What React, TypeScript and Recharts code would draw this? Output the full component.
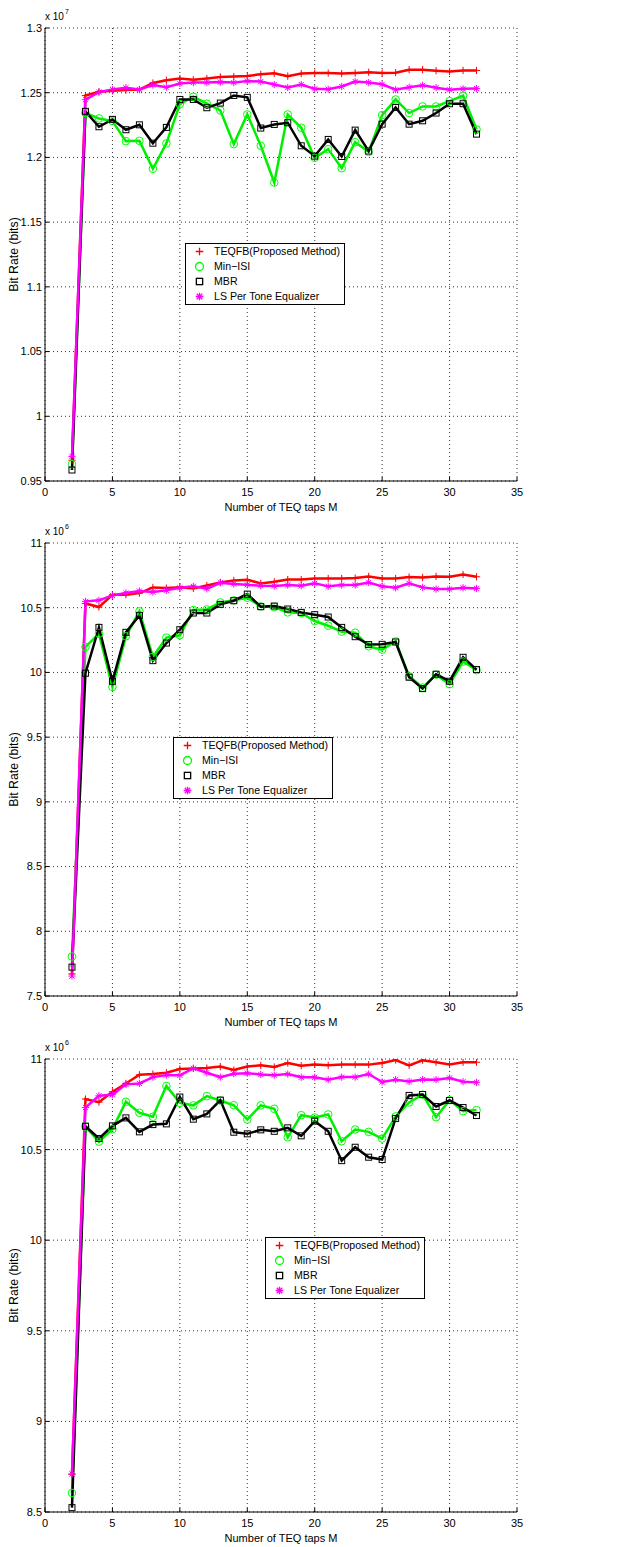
import React from 'react';
import { LineChart, Line, XAxis, YAxis, CartesianGrid, Legend } from 'recharts';

// Number of TEQ taps M
const taps = [2, 3, 4, 5, 6, 7, 8, 9, 10, 11, 12, 13, 14, 15, 16, 17, 18, 19, 20, 21, 22, 23, 24, 25, 26, 27, 28, 29, 30, 31, 32];
const xTicks = [0, 5, 10, 15, 20, 25, 30, 35];

// Panel 1 (x 10^7)
const p1Teqfb = [0.966, 1.2478, 1.2508, 1.2515, 1.252, 1.2524, 1.2575, 1.2597, 1.261, 1.26, 1.261, 1.2622, 1.2625, 1.263, 1.2642, 1.265, 1.2628, 1.2648, 1.2652, 1.2652, 1.2648, 1.2652, 1.2658, 1.2652, 1.2655, 1.2678, 1.2678, 1.267, 1.2663, 1.2672, 1.2672];
const p1MinIsi = [0.963, 1.2343, 1.2301, 1.2281, 1.2126, 1.2128, 1.1912, 1.2108, 1.2412, 1.2469, 1.2415, 1.2363, 1.2103, 1.2332, 1.209, 1.1806, 1.2332, 1.2229, 1.1997, 1.2064, 1.1917, 1.2118, 1.2043, 1.2327, 1.2448, 1.2343, 1.2394, 1.2394, 1.2435, 1.2477, 1.2216];
const p1Mbr = [0.9585, 1.2356, 1.2237, 1.2294, 1.2214, 1.2252, 1.211, 1.2232, 1.2448, 1.2448, 1.2384, 1.242, 1.2479, 1.2464, 1.2227, 1.2255, 1.2268, 1.209, 1.201, 1.2139, 1.2007, 1.2211, 1.2049, 1.2257, 1.2386, 1.2257, 1.2283, 1.2343, 1.2415, 1.2415, 1.218];
const p1Ls = [0.969, 1.2446, 1.2505, 1.2525, 1.2538, 1.2525, 1.256, 1.2543, 1.2571, 1.2578, 1.2578, 1.2582, 1.2578, 1.259, 1.2586, 1.2563, 1.254, 1.2563, 1.253, 1.2527, 1.2548, 1.2586, 1.2578, 1.2565, 1.2523, 1.2542, 1.2557, 1.2539, 1.2523, 1.253, 1.2532];
const p1YTicks = [0.95, 1, 1.05, 1.1, 1.15, 1.2, 1.25, 1.3];

// Panel 2 (x 10^6)
const p2Teqfb = [7.67, 10.533, 10.505, 10.6, 10.6, 10.613, 10.657, 10.652, 10.659, 10.649, 10.672, 10.695, 10.711, 10.716, 10.688, 10.7, 10.718, 10.718, 10.726, 10.726, 10.726, 10.729, 10.742, 10.726, 10.726, 10.737, 10.734, 10.742, 10.739, 10.757, 10.739];
const p2MinIsi = [7.805, 10.197, 10.3, 9.888, 10.279, 10.472, 10.12, 10.269, 10.287, 10.482, 10.487, 10.541, 10.557, 10.577, 10.51, 10.505, 10.464, 10.459, 10.397, 10.361, 10.315, 10.307, 10.202, 10.176, 10.24, 9.97, 9.883, 9.983, 9.909, 10.084, 10.017];
const p2Mbr = [7.723, 9.994, 10.348, 9.932, 10.31, 10.441, 10.091, 10.227, 10.33, 10.459, 10.459, 10.526, 10.554, 10.605, 10.508, 10.513, 10.49, 10.464, 10.446, 10.428, 10.348, 10.276, 10.215, 10.217, 10.235, 9.963, 9.875, 9.986, 9.932, 10.117, 10.022];
const p2Ls = [7.654, 10.549, 10.557, 10.595, 10.613, 10.629, 10.621, 10.634, 10.654, 10.665, 10.647, 10.693, 10.683, 10.677, 10.67, 10.667, 10.675, 10.67, 10.688, 10.665, 10.675, 10.675, 10.695, 10.665, 10.654, 10.688, 10.657, 10.644, 10.644, 10.654, 10.649];
const p2YTicks = [7.5, 8, 8.5, 9, 9.5, 10, 10.5, 11];

// Panel 3 (x 10^6)
const p3Teqfb = [8.708, 10.779, 10.762, 10.819, 10.865, 10.913, 10.917, 10.924, 10.945, 10.948, 10.95, 10.958, 10.939, 10.958, 10.965, 10.956, 10.978, 10.963, 10.97, 10.965, 10.969, 10.969, 10.969, 10.978, 10.994, 10.965, 10.993, 10.982, 10.97, 10.982, 10.982];
const p3MinIsi = [8.605, 10.627, 10.544, 10.613, 10.764, 10.703, 10.681, 10.851, 10.758, 10.744, 10.795, 10.771, 10.745, 10.666, 10.744, 10.725, 10.568, 10.69, 10.677, 10.694, 10.546, 10.611, 10.598, 10.561, 10.683, 10.76, 10.803, 10.679, 10.773, 10.712, 10.718];
const p3Mbr = [8.524, 10.629, 10.561, 10.631, 10.675, 10.598, 10.638, 10.642, 10.79, 10.668, 10.697, 10.773, 10.596, 10.587, 10.609, 10.601, 10.62, 10.576, 10.657, 10.601, 10.439, 10.513, 10.458, 10.445, 10.672, 10.799, 10.804, 10.738, 10.771, 10.732, 10.688];
const p3Ls = [8.71, 10.732, 10.797, 10.803, 10.86, 10.865, 10.9, 10.911, 10.91, 10.948, 10.924, 10.9, 10.919, 10.922, 10.915, 10.911, 10.917, 10.899, 10.899, 10.886, 10.9, 10.9, 10.917, 10.873, 10.886, 10.876, 10.887, 10.886, 10.895, 10.875, 10.871];
const p3YTicks = [8.5, 9, 9.5, 10, 10.5, 11];

const seriesNames = ['TEQFB(Proposed Method)', 'Min\u2212ISI', 'MBR', 'LS Per Tone Equalizer'];
const seriesKeys = ['teqfb', 'minisi', 'mbr', 'ls'];
const seriesColors = ['#ff0000', '#00ee00', '#000000', '#ff00ff'];
const markerColors = ['#ff0000', '#00ff00', '#000000', '#ff00ff'];

const FONT = '"Liberation Sans", Arial, Helvetica, sans-serif';

const buildRows = (a: number[], b: number[], c: number[], d: number[]) =>
  taps.map((m, i) => ({ m, teqfb: a[i], minisi: b[i], mbr: c[i], ls: d[i] }));

type MarkerProps = { cx: number; cy: number; color: string; kind: number; s?: number; w?: number };

const Marker = ({ cx, cy, color, kind, s = 1, w = 1 }: MarkerProps) => {
  if (cx == null || cy == null || isNaN(cx) || isNaN(cy)) return <g />;
  if (kind === 0) {
    const r = 3.6 * s;
    return <path d={`M${cx - r},${cy}H${cx + r}M${cx},${cy - r}V${cy + r}`} stroke={color} strokeWidth={w} fill="none" />;
  }
  if (kind === 1) {
    return <circle cx={cx} cy={cy} r={3.8 * s} stroke={color} strokeWidth={w} fill="none" />;
  }
  if (kind === 2) {
    const h = 3 * s;
    return <rect x={cx - h} y={cy - h} width={2 * h} height={2 * h} stroke={color} strokeWidth={w} fill="none" />;
  }
  const r = 3.6 * s;
  const d = r * 0.72;
  return (
    <path
      d={`M${cx - r},${cy}H${cx + r}M${cx},${cy - r}V${cy + r}M${cx - d},${cy - d}L${cx + d},${cy + d}M${cx - d},${cy + d}L${cx + d},${cy - d}`}
      stroke={color}
      strokeWidth={w}
      fill="none"
    />
  );
};

const LegendBox = () => (
  <div
    style={{
      border: '1px solid #000',
      background: '#fff',
      width: 160,
      height: 62,
      boxSizing: 'border-box',
      fontFamily: FONT,
      fontSize: 10.6,
      color: '#000',
    }}
  >
    {seriesNames.map((name, i) => (
      <div key={name} style={{ display: 'flex', alignItems: 'center', height: 15, lineHeight: '15px', whiteSpace: 'nowrap' }}>
        <svg width={28} height={15} style={{ display: 'block' }}>
          <Marker cx={13.5} cy={7.5} color={markerColors[i]} kind={i} s={1.05} w={1.3} />
        </svg>
        <span>{name}</span>
      </div>
    ))}
  </div>
);

type PanelProps = {
  rows: any[];
  yTicks: number[];
  exponent: string;
  legendLeft: number;
  legendTop: number;
};

const fmt = (v: number) => String(+v.toFixed(2));

const Panel = ({ rows, yTicks, exponent, legendLeft, legendTop }: PanelProps) => {
  const domain: [number, number] = [yTicks[0], yTicks[yTicks.length - 1]];
  const axisStroke = { stroke: '#000', strokeWidth: 1 };
  const tickStyle = { fill: '#000', fontSize: 11, fontFamily: FONT };
  return (
    <LineChart width={637} height={516} data={rows} margin={{ top: 28, right: 120, bottom: 0, left: 0 }}>
      <CartesianGrid stroke="#333" strokeDasharray="1 3" strokeWidth={1} />
      <XAxis
        dataKey="m"
        type="number"
        domain={[0, 35]}
        ticks={xTicks}
        interval={0}
        height={35}
        tickSize={-4}
        tickMargin={11}
        axisLine={axisStroke}
        tickLine={axisStroke}
        tick={tickStyle}
        label={{
          content: (p: any) => {
            const vb = p.viewBox || { x: 45, y: 481, width: 472 };
            return (
              <text x={vb.x + vb.width / 2} y={vb.y + 30} textAnchor="middle" fontSize={11} fontFamily={FONT} fill="#000">
                Number of TEQ taps M
              </text>
            );
          },
        }}
      />
      <XAxis
        xAxisId="top"
        dataKey="m"
        type="number"
        orientation="top"
        domain={[0, 35]}
        ticks={xTicks}
        interval={0}
        height={0}
        tick={false}
        tickSize={-4}
        axisLine={axisStroke}
        tickLine={axisStroke}
      />
      <YAxis
        type="number"
        domain={domain}
        ticks={yTicks}
        interval={0}
        width={45}
        tickSize={-4}
        tickMargin={7}
        allowDataOverflow
        axisLine={axisStroke}
        tickLine={axisStroke}
        tick={tickStyle}
        tickFormatter={fmt}
        label={{
          content: (p: any) => {
            const vb = p.viewBox || { x: 0, y: 28, width: 45, height: 453 };
            const cx = vb.x + 13.5;
            const cy = vb.y + vb.height / 2;
            const right = vb.x + vb.width;
            return (
              <g>
                <text
                  x={cx}
                  y={cy}
                  transform={`rotate(-90, ${cx}, ${cy})`}
                  textAnchor="middle"
                  dominantBaseline="central"
                  fontSize={12.3}
                  fontFamily={FONT}
                  fill="#000"
                >
                  Bit Rate (bits)
                </text>
                <text x={right} y={vb.y - 8} fontSize={10} fontFamily={FONT} fill="#000">
                  x 10
                  <tspan dy={-6} dx={1} fontSize={7}>
                    {exponent}
                  </tspan>
                </text>
              </g>
            );
          },
        }}
      />
      <YAxis
        yAxisId="right"
        orientation="right"
        type="number"
        domain={domain}
        ticks={yTicks}
        interval={0}
        width={0}
        tick={false}
        tickSize={-4}
        allowDataOverflow
        axisLine={axisStroke}
        tickLine={axisStroke}
      />
      {seriesKeys.map((k, i) => (
        <Line
          key={k}
          dataKey={k}
          name={seriesNames[i]}
          type="linear"
          stroke={seriesColors[i]}
          strokeWidth={2.5}
          isAnimationActive={false}
          activeDot={false}
          dot={(p: any) => <Marker key={`${k}-${p.index}`} cx={p.cx} cy={p.cy} color={markerColors[i]} kind={i} />}
        />
      ))}
      <Legend
        layout="vertical"
        align="center"
        verticalAlign="middle"
        content={() => <LegendBox />}
        wrapperStyle={{ position: 'absolute', left: legendLeft, top: legendTop, width: 160, height: 62, margin: 0, padding: 0 }}
      />
    </LineChart>
  );
};

const rows1 = buildRows(p1Teqfb, p1MinIsi, p1Mbr, p1Ls);
const rows2 = buildRows(p2Teqfb, p2MinIsi, p2Mbr, p2Ls);
const rows3 = buildRows(p3Teqfb, p3MinIsi, p3Mbr, p3Ls);

export default function App() {
  return (
    <div style={{ position: 'absolute', left: 0, top: 0, width: 637, height: 1547, background: '#fff', fontFamily: FONT }}>
      <div style={{ position: 'absolute', left: 0, top: 0 }}>
        <Panel rows={rows1} yTicks={p1YTicks} exponent="7" legendLeft={185} legendTop={243} />
      </div>
      <div style={{ position: 'absolute', left: 0, top: 515 }}>
        <Panel rows={rows2} yTicks={p2YTicks} exponent="6" legendLeft={173} legendTop={222} />
      </div>
      <div style={{ position: 'absolute', left: 0, top: 1031 }}>
        <Panel rows={rows3} yTicks={p3YTicks} exponent="6" legendLeft={265} legendTop={206} />
      </div>
    </div>
  );
}
